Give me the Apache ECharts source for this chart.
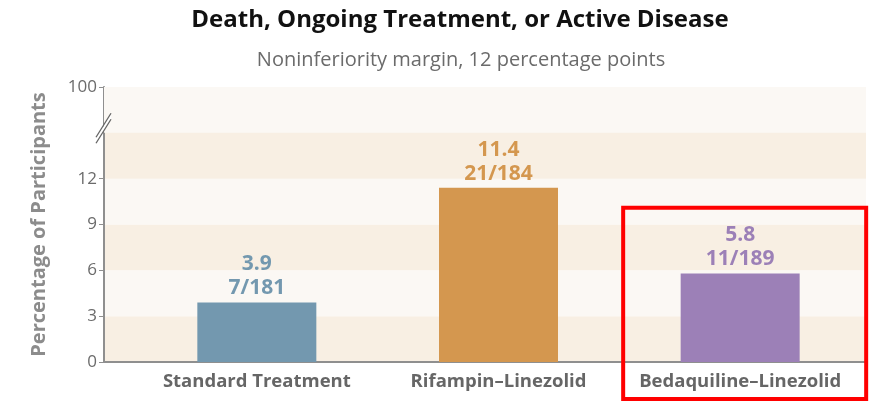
<!DOCTYPE html>
<html lang="en">
<head>
    <meta charset="UTF-8">
    <title>Death, Ongoing Treatment, or Active Disease</title>
    <style>
        html, body { margin: 0; padding: 0; background: #fff; }
    </style>
</head>
<body>

<div id="main" style="width: 876px;height:404px;"></div>

<script src="https://cdn.jsdelivr.net/npm/echarts@6/dist/echarts.min.js" charset="utf-8"></script>

<script type="text/javascript">
    // data
    var groups = ['Standard Treatment', 'Rifampin\u2013Linezolid', 'Bedaquiline\u2013Linezolid'];
    var percents = [3.9, 11.4, 5.8];
    var counts = ['7/181', '21/184', '11/189'];
    var barColors = ['#7398AF', '#D4974F', '#9C80B7'];
    // y scale: 15..18 stands in for the broken part up to 100
    var yTicks = [0, 3, 6, 9, 12, 18];
    var yTickLabels = {0: '0', 3: '3', 6: '6', 9: '9', 12: '12', 18: '100'};

    var font = '"Open Sans", sans-serif';
    var grey = '#8f8f8f';
    var bandDark = '#F8EFE3';
    var bandLight = '#FBF8F4';

    var myChart = echarts.init(document.getElementById('main'));

    var barData = [];
    for (var i = 0; i < percents.length; i++) {
        barData.push({
            value: percents[i],
            itemStyle: {color: barColors[i]},
            label: {color: barColors[i]}
        });
    }

    var option = {
        animation: false,
        title: [{
            text: 'Death, Ongoing Treatment, or Active Disease',
            left: 455,
            top: 3,
            textAlign: 'center',
            textStyle: {fontFamily: font, fontSize: 24, fontWeight: 'bold', color: '#111'}
        }, {
            text: 'Noninferiority margin, 12 percentage points',
            left: 456,
            top: 45,
            textAlign: 'center',
            textStyle: {fontFamily: font, fontSize: 20, fontWeight: 'normal', color: '#6b6b6b'}
        }],
        grid: [
            {left: 104, right: 10, top: 87, bottom: 42},
            {left: 136, right: 15, top: 87, bottom: 42}
        ],
        xAxis: [
            {
                type: 'value', gridIndex: 0, min: 0, max: 1,
                axisLine: {show: true, lineStyle: {color: grey, width: 2}},
                axisTick: {show: false}, axisLabel: {show: false}, splitLine: {show: false}
            },
            {
                type: 'category', gridIndex: 1, data: groups,
                axisLine: {show: false}, axisTick: {show: false},
                axisLabel: {
                    interval: 0, hideOverlap: false,
                    margin: 10, fontFamily: font, fontSize: 18.5, fontWeight: 'bold', color: '#666'
                }
            }
        ],
        yAxis: [
            {
                type: 'value', gridIndex: 0, min: 0, max: 18, interval: 3,
                name: 'Percentage of Participants',
                nameLocation: 'middle',
                nameGap: 55,
                nameTextStyle: {fontFamily: font, fontSize: 20, fontWeight: 'bold', color: '#8c8c8c'},
                axisLine: {show: true, lineStyle: {color: grey, width: 2}},
                axisTick: {show: true, length: 5, customValues: yTicks, lineStyle: {color: grey}},
                axisLabel: {
                    customValues: yTicks, margin: 7,
                    fontFamily: font, fontSize: 17, color: '#6b6b6b',
                    formatter: function (v) { return yTickLabels[v]; }
                },
                splitLine: {show: false},
                splitArea: {show: true, areaStyle: {color: [bandDark, bandLight]}}
            },
            {
                type: 'value', gridIndex: 1, min: 0, max: 18, interval: 3, show: false,
                splitLine: {show: false}
            }
        ],
        series: [{
            // lighter band above the break
            type: 'line',
            xAxisIndex: 0,
            yAxisIndex: 0,
            data: [],
            silent: true,
            markArea: {
                silent: true,
                itemStyle: {color: bandLight},
                data: [[{yAxis: 15}, {yAxis: 18}]]
            }
        }, {
            type: 'bar',
            xAxisIndex: 1,
            yAxisIndex: 1,
            barWidth: 119,
            data: barData,
            label: {
                show: true,
                position: 'top',
                distance: 2,
                fontFamily: font,
                fontSize: 21,
                fontWeight: 'bold',
                lineHeight: 24,
                formatter: function (p) {
                    return p.value.toFixed(1) + '\n' + counts[p.dataIndex];
                }
            }
        }]
    };

    myChart.setOption(option);

    // axis break marks and highlight box
    var ax = myChart.convertToPixel({xAxisIndex: 0}, 0);
    var by = myChart.convertToPixel({yAxisIndex: 0}, 15.3);
    var cx = myChart.convertToPixel({xAxisIndex: 1}, groups[2]);
    var y0 = myChart.convertToPixel({yAxisIndex: 0}, 0);
    var y9 = myChart.convertToPixel({yAxisIndex: 0}, 10.1);

    myChart.setOption({
        graphic: [
            {
                type: 'polygon',
                shape: {points: [[ax - 8, by + 10], [ax + 7, by - 14], [ax + 7, by - 9], [ax - 8, by + 15]]},
                style: {fill: '#fff'},
                z: 100
            },
            {
                type: 'line',
                shape: {x1: ax - 8, y1: by + 9, x2: ax + 7, y2: by - 15},
                style: {stroke: '#666', lineWidth: 1.3},
                z: 101
            },
            {
                type: 'line',
                shape: {x1: ax - 8, y1: by + 15, x2: ax + 7, y2: by - 9},
                style: {stroke: '#666', lineWidth: 1.3},
                z: 101
            },
            {
                type: 'rect',
                shape: {x: cx - 117, y: y9, width: 243, height: y0 - y9 + 37},
                style: {fill: null, stroke: '#ff0000', lineWidth: 4},
                z: 110
            }
        ]
    });
</script>
</body>

</html>
